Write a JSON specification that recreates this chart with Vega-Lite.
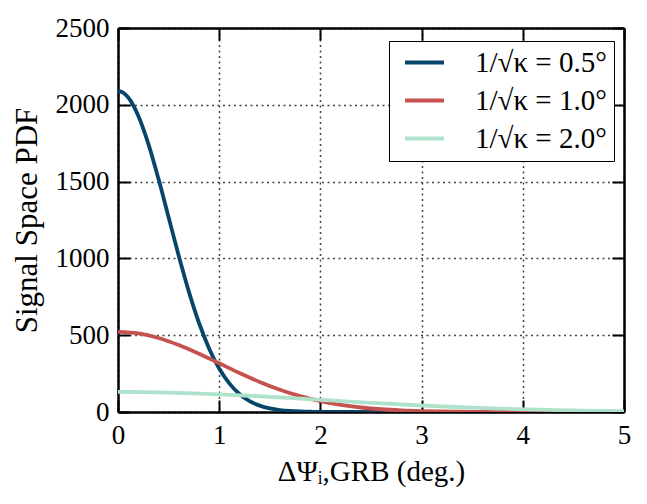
{
  "$schema": "https://vega.github.io/schema/vega-lite/v6.json",
  "width": 506,
  "height": 384,
  "autosize": {"type": "none"},
  "padding": {"left": 118, "top": 28, "right": 23, "bottom": 92},
  "background": "white",
  "config": {
    "view": {"stroke": null},
    "font": "Liberation Serif",
    "axis": {
      "labelFont": "Liberation Serif",
      "titleFont": "Liberation Serif",
      "labelColor": "black",
      "titleColor": "black",
      "titleFontWeight": "normal",
      "domainColor": "black",
      "domainWidth": 2.5,
      "tickColor": "black",
      "tickWidth": 2,
      "tickSize": -12,
      "gridColor": "#444",
      "gridDash": [2, 3.5],
      "gridWidth": 1.5
    },
    "legend": {
      "labelFont": "Liberation Serif",
      "labelColor": "black"
    }
  },
  "data": {
    "values": [
      {"x": 0.0, "y": 2090, "s": "1/√κ = 0.5°"},
      {"x": 0.05, "y": 2080, "s": "1/√κ = 0.5°"},
      {"x": 0.1, "y": 2049, "s": "1/√κ = 0.5°"},
      {"x": 0.15, "y": 1998, "s": "1/√κ = 0.5°"},
      {"x": 0.2, "y": 1929, "s": "1/√κ = 0.5°"},
      {"x": 0.3, "y": 1746, "s": "1/√κ = 0.5°"},
      {"x": 0.4, "y": 1518, "s": "1/√κ = 0.5°"},
      {"x": 0.5, "y": 1268, "s": "1/√κ = 0.5°"},
      {"x": 0.6, "y": 1017, "s": "1/√κ = 0.5°"},
      {"x": 0.7, "y": 784, "s": "1/√κ = 0.5°"},
      {"x": 0.8, "y": 581, "s": "1/√κ = 0.5°"},
      {"x": 0.9, "y": 414, "s": "1/√κ = 0.5°"},
      {"x": 1.0, "y": 283, "s": "1/√κ = 0.5°"},
      {"x": 1.1, "y": 186, "s": "1/√κ = 0.5°"},
      {"x": 1.2, "y": 117, "s": "1/√κ = 0.5°"},
      {"x": 1.3, "y": 71, "s": "1/√κ = 0.5°"},
      {"x": 1.4, "y": 41.5, "s": "1/√κ = 0.5°"},
      {"x": 1.5, "y": 23.2, "s": "1/√κ = 0.5°"},
      {"x": 1.6, "y": 12.5, "s": "1/√κ = 0.5°"},
      {"x": 1.7, "y": 6.5, "s": "1/√κ = 0.5°"},
      {"x": 1.8, "y": 3.2, "s": "1/√κ = 0.5°"},
      {"x": 1.9, "y": 1.5, "s": "1/√κ = 0.5°"},
      {"x": 2.0, "y": 0.7, "s": "1/√κ = 0.5°"},
      {"x": 2.5, "y": 0, "s": "1/√κ = 0.5°"},
      {"x": 3.0, "y": 0, "s": "1/√κ = 0.5°"},
      {"x": 4.0, "y": 0, "s": "1/√κ = 0.5°"},
      {"x": 5.0, "y": 0, "s": "1/√κ = 0.5°"},
      {"x": 0.0, "y": 522, "s": "1/√κ = 1.0°"},
      {"x": 0.2, "y": 512, "s": "1/√κ = 1.0°"},
      {"x": 0.4, "y": 482, "s": "1/√κ = 1.0°"},
      {"x": 0.6, "y": 436, "s": "1/√κ = 1.0°"},
      {"x": 0.8, "y": 379, "s": "1/√κ = 1.0°"},
      {"x": 1.0, "y": 317, "s": "1/√κ = 1.0°"},
      {"x": 1.2, "y": 254, "s": "1/√κ = 1.0°"},
      {"x": 1.4, "y": 196, "s": "1/√κ = 1.0°"},
      {"x": 1.6, "y": 145, "s": "1/√κ = 1.0°"},
      {"x": 1.8, "y": 103, "s": "1/√κ = 1.0°"},
      {"x": 2.0, "y": 70.6, "s": "1/√κ = 1.0°"},
      {"x": 2.2, "y": 46.4, "s": "1/√κ = 1.0°"},
      {"x": 2.4, "y": 29.3, "s": "1/√κ = 1.0°"},
      {"x": 2.6, "y": 17.8, "s": "1/√κ = 1.0°"},
      {"x": 2.8, "y": 10.4, "s": "1/√κ = 1.0°"},
      {"x": 3.0, "y": 5.8, "s": "1/√κ = 1.0°"},
      {"x": 3.2, "y": 3.1, "s": "1/√κ = 1.0°"},
      {"x": 3.4, "y": 1.6, "s": "1/√κ = 1.0°"},
      {"x": 3.6, "y": 0.8, "s": "1/√κ = 1.0°"},
      {"x": 4.0, "y": 0.2, "s": "1/√κ = 1.0°"},
      {"x": 4.5, "y": 0, "s": "1/√κ = 1.0°"},
      {"x": 5.0, "y": 0, "s": "1/√κ = 1.0°"},
      {"x": 0.0, "y": 130.6, "s": "1/√κ = 2.0°"},
      {"x": 0.25, "y": 129.6, "s": "1/√κ = 2.0°"},
      {"x": 0.5, "y": 126.6, "s": "1/√κ = 2.0°"},
      {"x": 0.75, "y": 121.7, "s": "1/√κ = 2.0°"},
      {"x": 1.0, "y": 115.3, "s": "1/√κ = 2.0°"},
      {"x": 1.25, "y": 107.4, "s": "1/√κ = 2.0°"},
      {"x": 1.5, "y": 98.6, "s": "1/√κ = 2.0°"},
      {"x": 1.75, "y": 89.1, "s": "1/√κ = 2.0°"},
      {"x": 2.0, "y": 79.2, "s": "1/√κ = 2.0°"},
      {"x": 2.25, "y": 69.4, "s": "1/√κ = 2.0°"},
      {"x": 2.5, "y": 59.8, "s": "1/√κ = 2.0°"},
      {"x": 2.75, "y": 50.8, "s": "1/√κ = 2.0°"},
      {"x": 3.0, "y": 42.4, "s": "1/√κ = 2.0°"},
      {"x": 3.25, "y": 34.9, "s": "1/√κ = 2.0°"},
      {"x": 3.5, "y": 28.2, "s": "1/√κ = 2.0°"},
      {"x": 3.75, "y": 22.5, "s": "1/√κ = 2.0°"},
      {"x": 4.0, "y": 17.7, "s": "1/√κ = 2.0°"},
      {"x": 4.25, "y": 13.7, "s": "1/√κ = 2.0°"},
      {"x": 4.5, "y": 10.4, "s": "1/√κ = 2.0°"},
      {"x": 4.75, "y": 7.8, "s": "1/√κ = 2.0°"},
      {"x": 5.0, "y": 5.7, "s": "1/√κ = 2.0°"}
    ]
  },
  "layer": [
    {
      "mark": {"type": "line", "strokeWidth": 3.8, "interpolate": "monotone", "clip": true},
      "encoding": {
        "x": {
          "field": "x", "type": "quantitative",
          "scale": {"domain": [0, 5], "nice": false, "zero": false},
          "axis": {
            "orient": "bottom",
            "values": [0, 1, 2, 3, 4, 5],
            "format": "d",
            "labelFontSize": 27,
            "labelPadding": 22,
            "labelFlush": false,
            "title": "ΔΨᵢ,GRB (deg.)",
            "titleFontSize": 29,
            "titlePadding": 9,
            "grid": true
          }
        },
        "y": {
          "field": "y", "type": "quantitative",
          "scale": {"domain": [0, 2500], "nice": false},
          "axis": {
            "orient": "left",
            "values": [0, 500, 1000, 1500, 2000, 2500],
            "format": "d",
            "labelFontSize": 27,
            "labelPadding": 21,
            "labelFlush": false,
            "title": "Signal Space PDF",
            "titleFontSize": 31,
            "titlePadding": 12,
            "grid": true
          }
        },
        "color": {
          "field": "s", "type": "nominal",
          "scale": {
            "domain": ["1/√κ = 0.5°", "1/√κ = 1.0°", "1/√κ = 2.0°"],
            "range": ["#07456a", "#c65250", "#aee2cb"]
          },
          "legend": {
            "title": null,
            "orient": "none",
            "legendX": 271,
            "legendY": 13,
            "symbolType": "M-3,0H3",
            "symbolSize": 169,
            "symbolStrokeWidth": 4,
            "symbolOffset": 14,
            "labelFontSize": 29,
            "labelOffset": 36,
            "rowPadding": 8,
            "padding": 7,
            "fillColor": "white",
            "strokeColor": "black",
            "cornerRadius": 0
          }
        }
      }
    },
    {
      "mark": {"type": "line", "opacity": 0},
      "encoding": {
        "x": {
          "field": "x", "type": "quantitative",
          "axis": {
            "orient": "top",
            "values": [0, 1, 2, 3, 4, 5],
            "labels": false,
            "title": null,
            "grid": false
          }
        },
        "y": {
          "field": "y", "type": "quantitative",
          "axis": {
            "orient": "right",
            "values": [0, 500, 1000, 1500, 2000, 2500],
            "labels": false,
            "title": null,
            "grid": false
          }
        },
        "detail": {"field": "s"}
      }
    }
  ],
  "resolve": {"axis": {"x": "independent", "y": "independent"}}
}
